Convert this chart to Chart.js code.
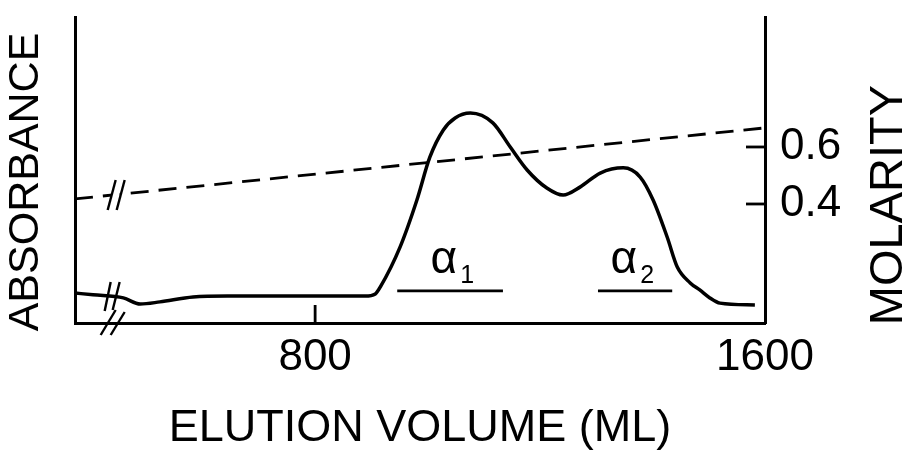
<!DOCTYPE html>
<html><head><meta charset="utf-8">
<script src="https://cdn.jsdelivr.net/npm/chart.js@4.4.0/dist/chart.umd.min.js"></script>
<style>html,body{margin:0;padding:0;background:#fff}canvas{display:block}</style>
</head><body>
<canvas id="c" width="906" height="453" style="width:906px;height:453px"></canvas>
<script>
// Elution profile (absorbance, arbitrary units)
const elutionVolume = [373, 405, 459, 489, 524, 583, 644, 702, 773, 844, 889, 907, 916, 951, 981, 1004, 1028, 1049, 1076, 1116, 1147, 1177, 1212, 1241, 1271, 1307, 1348, 1378, 1401, 1426, 1444, 1467, 1484, 1502, 1520, 1582];
const absorbance    = [0.098, 0.092, 0.082, 0.062, 0.069, 0.085, 0.088, 0.088, 0.088, 0.088, 0.088, 0.095, 0.118, 0.248, 0.402, 0.542, 0.631, 0.670, 0.686, 0.654, 0.575, 0.500, 0.441, 0.418, 0.444, 0.490, 0.507, 0.477, 0.402, 0.281, 0.183, 0.131, 0.108, 0.082, 0.065, 0.059];
// Salt gradient (molarity)
const gradientVolume   = [373, 1600];
const gradientMolarity = [0.418, 0.667];
// Axis ticks
const volumeTicks   = [800, 1600];
const molarityTicks = [0.4, 0.6];
// Pooled fractions
const fractionNames = ['α', 'α'];
const fractionSubs  = ['1', '2'];
const fractionStart = [946, 1303];
const fractionEnd   = [1134, 1435];
const fractionLevel = 0.105;
const fractionLabelX = [1029, 1349];
const fractionLabelLevel = 0.163;
const breakVolume = 440;
const breakAbsorbance = 0.088;

const FONT = '"Liberation Sans", Arial, sans-serif';
const INK = '#000';

const decor = {
  id: 'decor',
  afterDatasetsDraw(chart) {
    const {ctx, chartArea: ca} = chart;
    const xs = chart.scales.x, ya = chart.scales.yA, ym = chart.scales.yM;
    ctx.save();
    ctx.strokeStyle = INK; ctx.fillStyle = INK;
    ctx.lineWidth = 2.8; ctx.lineCap = 'butt';
    // inward tick marks
    volumeTicks.forEach(v => {
      const px = xs.getPixelForValue(v);
      if (px < ca.right - 2) { ctx.beginPath(); ctx.moveTo(px, ca.bottom); ctx.lineTo(px, ca.bottom - 18); ctx.stroke(); }
    });
    molarityTicks.forEach(v => {
      const py = ym.getPixelForValue(v);
      ctx.beginPath(); ctx.moveTo(ca.right, py); ctx.lineTo(ca.right - 19, py); ctx.stroke();
    });
    // axis breaks
    const bx = xs.getPixelForValue(breakVolume);
    const slash = (x1, y1, x2, y2) => { ctx.beginPath(); ctx.moveTo(x1, y1); ctx.lineTo(x2, y2); ctx.stroke(); };
    const yd = ym.getPixelForValue(gradientMolarity[0] + (gradientMolarity[1]-gradientMolarity[0])*(breakVolume-gradientVolume[0])/(gradientVolume[1]-gradientVolume[0]));
    ctx.fillStyle = '#fff';
    ctx.fillRect(bx - 1, yd - 4, 8, 8);
    ctx.fillStyle = INK;
    ctx.lineWidth = 2.4;
    slash(bx - 5, yd + 15, bx + 3, yd - 15);
    slash(bx + 4, yd + 15, bx + 12, yd - 15);
    const yc = ya.getPixelForValue(breakAbsorbance);
    slash(bx - 8, yc + 15, bx - 2, yc - 14);
    slash(bx, yc + 14, bx + 7, yc - 14);
    slash(bx - 12, ca.bottom + 12, bx + 3, ca.bottom - 13);
    slash(bx - 2, ca.bottom + 12, bx + 12, ca.bottom - 11);
    // fraction labels
    fractionNames.forEach((n, i) => {
      const px = xs.getPixelForValue(fractionLabelX[i]);
      const py = ya.getPixelForValue(fractionLabelLevel);
      ctx.font = '46px ' + FONT;
      ctx.textAlign = 'center'; ctx.textBaseline = 'alphabetic';
      ctx.fillText(n, px, py);
      const w = ctx.measureText(n).width;
      ctx.font = '25px ' + FONT;
      ctx.textAlign = 'left';
      ctx.fillText(fractionSubs[i], px + w / 2 + 3, py + 10);
    });
    // axis titles drawn reading bottom-to-top
    const vtitle = (t, x, y, size) => {
      ctx.save(); ctx.translate(x, y); ctx.rotate(-Math.PI / 2);
      ctx.font = size + 'px ' + FONT; ctx.textAlign = 'center'; ctx.textBaseline = 'middle';
      ctx.fillText(t, 0, 0); ctx.restore();
    };
    vtitle('ABSORBANCE', 26, 182, 43);
    vtitle('MOLARITY', 889, 205, 47);
    ctx.restore();
  }
};

const noPad = s => { s.paddingTop = 0; s.paddingBottom = 0; s.paddingLeft = 0; s.paddingRight = 0; };

new Chart(document.getElementById('c'), {
  type: 'line',
  data: {
    datasets: [
      { data: elutionVolume.map((x, i) => ({x, y: absorbance[i]})), yAxisID: 'yA', borderColor: INK, borderWidth: 3.5, pointRadius: 0, cubicInterpolationMode: 'monotone', fill: false },
      { data: gradientVolume.map((x, i) => ({x, y: gradientMolarity[i]})), yAxisID: 'yM', borderColor: INK, borderWidth: 2.8, borderDash: [18, 10], pointRadius: 0, fill: false },
      { data: [{x: fractionStart[0], y: fractionLevel}, {x: fractionEnd[0], y: fractionLevel}], yAxisID: 'yA', borderColor: INK, borderWidth: 2.8, pointRadius: 0 },
      { data: [{x: fractionStart[1], y: fractionLevel}, {x: fractionEnd[1], y: fractionLevel}], yAxisID: 'yA', borderColor: INK, borderWidth: 2.8, pointRadius: 0 }
    ]
  },
  options: {
    responsive: false, animation: false, devicePixelRatio: 1,
    layout: { padding: { top: 17, left: 0, right: 0, bottom: 0 } },
    plugins: { legend: { display: false }, tooltip: { enabled: false } },
    scales: {
      x: {
        type: 'linear', position: 'bottom', min: 373, max: 1600,
        afterBuildTicks: s => { s.ticks = volumeTicks.map(v => ({value: v})); },
        afterFit: s => { s.height = 130; noPad(s); },
        grid: { display: false, drawTicks: false },
        border: { display: true, color: INK, width: 3 },
        ticks: { color: INK, font: { family: FONT, size: 44 }, padding: 8, maxRotation: 0, autoSkip: false, callback: v => String(v) },
        title: { display: true, text: 'ELUTION VOLUME (ML)', color: INK, font: { family: FONT, size: 45, lineHeight: 1 }, padding: { top: 0, bottom: 2 } }
      },
      yA: {
        type: 'linear', position: 'left', min: 0, max: 1,
        afterFit: s => { s.width = 75; noPad(s); },
        grid: { display: false, drawTicks: false },
        border: { display: true, color: INK, width: 3 },
        ticks: { display: false }
      },
      yM: {
        type: 'linear', position: 'right', min: -0.0175, max: 1.056,
        afterBuildTicks: s => { s.ticks = molarityTicks.map(v => ({value: v})); },
        afterFit: s => { s.width = 141; noPad(s); },
        grid: { display: false, drawTicks: false },
        border: { display: true, color: INK, width: 3 },
        ticks: { color: INK, font: { family: FONT, size: 44 }, padding: 15, callback: v => v.toFixed(1) }
      }
    }
  },
  plugins: [decor]
});
</script>
</body></html>
